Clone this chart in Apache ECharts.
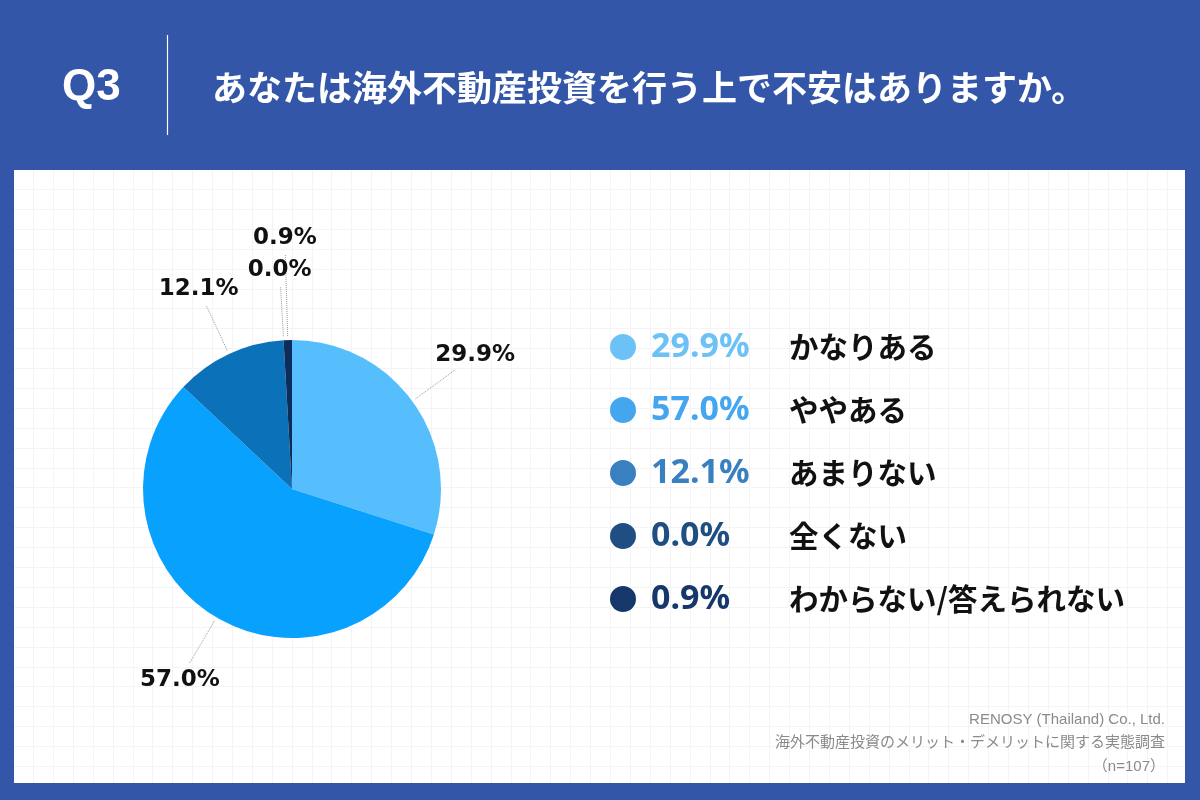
<!DOCTYPE html>
<html><head><meta charset="utf-8">
<script src="https://cdn.jsdelivr.net/npm/echarts@6/dist/echarts.min.js"></script>
<style>html,body{margin:0;padding:0;background:#3356a8}#c{width:1200px;height:800px}</style>
</head><body><div id="c"></div>
<script>
const categories = ['かなりある', 'ややある', 'あまりない', '全くない', 'わからない/答えられない'];
const values = [29.9, 57.0, 12.1, 0.0, 0.9];
const questionNo = 'Q3';
const questionText = 'あなたは海外不動産投資を行う上で不安はありますか。';
const sourceLines = ['RENOSY (Thailand) Co., Ltd.', '海外不動産投資のメリット・デメリットに関する実態調査', '（n=107）'];

const pieColors = ['#56befd', '#08a1fe', '#0b72b9', '#1f4f85', '#0c2d5c'];
const legendColors = ['#6cc2f7', '#45a6f0', '#3a7fc0', '#1f4f82', '#15376a'];

const chart = echarts.init(document.getElementById('c'), null, {renderer: 'canvas'});

const graphics = [];
graphics.push({type: 'rect', shape: {x: 14, y: 170, width: 1171, height: 613}, style: {fill: '#ffffff'}, z: -10});
for (let x = 33; x < 1185; x += 19.9) {
  graphics.push({type: 'line', shape: {x1: Math.round(x) + 0.5, y1: 170, x2: Math.round(x) + 0.5, y2: 783}, style: {stroke: '#f4f4f6', lineWidth: 1}, z: -9});
}
for (let y = 189; y < 783; y += 19.9) {
  graphics.push({type: 'line', shape: {x1: 14, y1: Math.round(y) + 0.5, x2: 1185, y2: Math.round(y) + 0.5}, style: {stroke: '#f4f4f6', lineWidth: 1}, z: -9});
}
graphics.push({type: 'line', shape: {x1: 167.5, y1: 35, x2: 167.5, y2: 135}, style: {stroke: '#ffffff', lineWidth: 1.2}});

const rich = {
  s: {width: 10},
  n: {fontSize: 29.5, fontWeight: 'bold', color: '#111111', fontFamily: '"Noto Sans CJK JP"', lineHeight: 40}
};
legendColors.forEach((c, i) => {
  rich['p' + i] = {width: 138, fontSize: 34, fontWeight: 'bold', color: c, fontFamily: '"Noto Sans", sans-serif', lineHeight: 40};
});

const option = {
  backgroundColor: '#3356a8',
  animation: false,
  graphic: graphics,
  title: [
    {text: questionNo, left: 62, top: 63, padding: 0,
     textStyle: {color: '#ffffff', fontSize: 44, fontWeight: 'bold', fontFamily: '"Liberation Sans", Arial, sans-serif', lineHeight: 50}},
    {text: questionText, left: 212, top: 65, padding: 0,
     textStyle: {color: '#ffffff', fontSize: 35, fontWeight: 'bold', fontFamily: '"Noto Sans CJK JP"', lineHeight: 46}},
    {text: sourceLines.join('\n'), left: 1165, top: 708, padding: 0, textAlign: 'right',
     textStyle: {color: '#8a8a8a', fontSize: 15, fontWeight: 'normal', fontFamily: '"Liberation Sans", "Noto Sans CJK JP", sans-serif', lineHeight: 23.5, align: 'right'}}
  ],
  legend: {
    orient: 'vertical', left: 610, top: 330, padding: 0,
    itemWidth: 26, itemHeight: 26, itemGap: 29, icon: 'circle',
    selectedMode: false,
    data: categories.map((n, i) => ({name: n, itemStyle: {color: legendColors[i]}})),
    formatter: function (name) {
      const i = categories.indexOf(name);
      return '{s|}{p' + i + '|' + values[i].toFixed(1) + '%}{n|' + name + '}';
    },
    textStyle: {rich: rich}
  },
  series: [{
    type: 'pie',
    center: [292, 489],
    radius: 149,
    startAngle: 90,
    clockwise: true,
    avoidLabelOverlap: false,
    silent: true,
    emphasis: {disabled: true},
    itemStyle: {borderWidth: 0},
    label: {
      show: true, position: 'outside',
      formatter: p => p.value.toFixed(1) + '%',
      fontSize: 23, fontWeight: 'bold', color: '#111111', fontFamily: '"DejaVu Sans", sans-serif'
    },
    labelLine: {show: true, length: 54, length2: 0, smooth: false,
      lineStyle: {color: '#9a9a9a', width: 1, type: 'dotted'}},
    labelLayout: function (p) {
      const pts = p.labelLinePoints;
      if (!pts) return {};
      const a = pts[0], b = pts[1];
      const dx = b[0] - a[0], dy = b[1] - a[1];
      const len = Math.hypot(dx, dy) || 1;
      const ux = dx / len, uy = dy / len;
      const hw = p.labelRect.width / 2, hh = p.labelRect.height / 2 - 1;
      const d = Math.min(Math.abs(ux) > 1e-6 ? hw / Math.abs(ux) : 1e9, Math.abs(uy) > 1e-6 ? hh / Math.abs(uy) : 1e9) + 6;
      return {
        x: b[0] + ux * d, y: b[1] + uy * d, align: 'center', verticalAlign: 'middle',
        labelLinePoints: [[a[0] + ux * 4, a[1] + uy * 4], b, b]
      };
    },
    data: categories.map((n, i) => {
      const item = {name: n, value: values[i], itemStyle: {color: pieColors[i]}};
      if (i === 4) item.labelLine = {length: 86};
      return item;
    })
  }]
};
chart.setOption(option);
</script>
</body></html>
